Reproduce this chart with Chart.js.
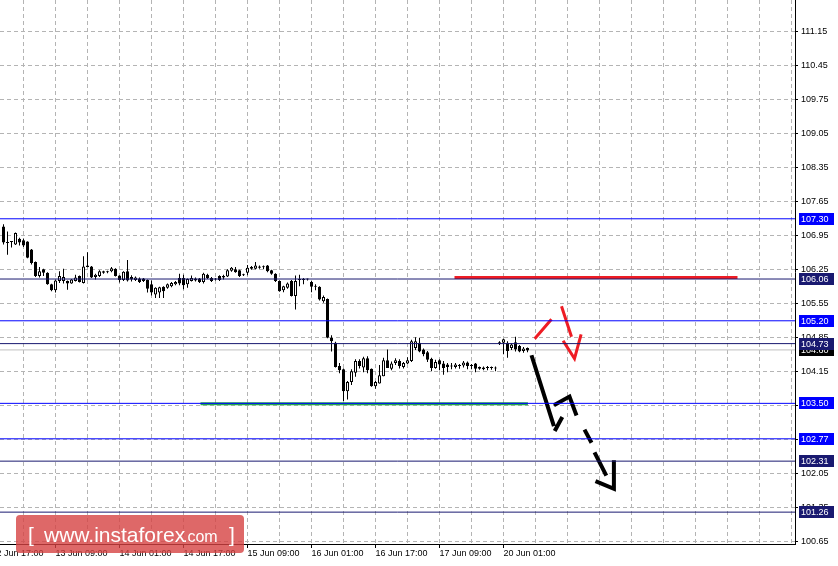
<!DOCTYPE html>
<html>
<head>
<meta charset="utf-8">
<script src="https://cdn.jsdelivr.net/npm/chart.js@4.4.1/dist/chart.umd.min.js"></script>
<style>
    html, body { margin: 0; padding: 0; background: #ffffff; }
    #wrap { width: 838px; height: 566px; }
</style>
</head>
<body>
<div id="wrap"><canvas id="chart" width="838" height="566"></canvas></div>
<script>
// H1 candles, x value = hours counted from 12 Jun 17:00 (weekend skipped)
const firstHour = 3;
const opens = [
    107.14, 106.82, 106.82, 106.77, 106.89, 106.86, 106.83, 106.67, 106.41, 106.12,
    106.26, 106.19, 105.95, 105.83, 106.02, 106.02, 106.02, 105.97, 106.02, 106.12,
    105.98, 106.34, 106.32, 106.10, 106.12, 106.22, 106.22, 106.22, 106.27, 106.13,
    106.04, 106.22, 106.10, 106.04, 106.07, 106.07, 106.04, 105.95, 105.74, 105.78,
    105.90, 105.88, 105.91, 105.95, 106.08, 106.08, 105.95, 106.02, 106.07, 106.07,
    106.00, 106.15, 106.08, 106.05, 106.12, 106.09, 106.11, 106.23, 106.26, 106.24,
    106.14, 106.19, 106.27, 106.27, 106.32, 106.31, 106.34, 106.24, 106.17, 106.02,
    105.83, 105.88, 106.02, 105.71, 106.05, 106.04, 106.06, 106.00, 105.91, 105.90,
    105.60, 105.65, 104.85, 104.75, 104.27, 104.20, 103.75, 103.94, 104.13, 104.37,
    104.24, 104.43, 104.21, 103.85, 103.91, 104.06, 104.39, 104.21, 104.33, 104.37,
    104.25, 104.32, 104.37, 104.64, 104.75, 104.61, 104.55, 104.42, 104.23, 104.39,
    104.32, 104.30, 104.27, 104.25, 104.27, 104.28, 104.34, 104.28, 104.32, 104.25,
    104.24, 104.24, 104.23, 104.23, 104.72, 104.75, 104.75, 104.64, 104.76, 104.68,
    104.58, 104.64
];
const highs = [
    107.19, 107.04, 106.84, 107.02, 106.91, 106.89, 106.84, 106.68, 106.42, 106.31,
    106.27, 106.20, 105.96, 106.05, 106.22, 106.27, 106.03, 106.06, 106.15, 106.13,
    106.53, 106.61, 106.33, 106.17, 106.24, 106.23, 106.23, 106.31, 106.28, 106.14,
    106.22, 106.45, 106.14, 106.11, 106.09, 106.08, 106.05, 106.03, 105.89, 105.90,
    105.91, 105.97, 106.00, 106.02, 106.17, 106.15, 106.07, 106.13, 106.09, 106.08,
    106.19, 106.17, 106.10, 106.08, 106.14, 106.15, 106.26, 106.31, 106.31, 106.25,
    106.17, 106.35, 106.33, 106.41, 106.34, 106.34, 106.35, 106.25, 106.18, 106.03,
    105.92, 105.99, 106.04, 106.13, 106.15, 106.08, 106.07, 106.02, 105.95, 105.91,
    105.72, 105.66, 104.90, 104.77, 104.33, 104.22, 103.96, 104.20, 104.41, 104.41,
    104.46, 104.47, 104.22, 103.96, 104.29, 104.44, 104.61, 104.36, 104.43, 104.41,
    104.35, 104.45, 104.81, 104.86, 104.85, 104.63, 104.58, 104.44, 104.40, 104.41,
    104.37, 104.33, 104.33, 104.33, 104.31, 104.37, 104.36, 104.31, 104.33, 104.26,
    104.26, 104.27, 104.26, 104.26, 104.78, 104.83, 104.78, 104.74, 104.87, 104.70,
    104.66, 104.65
];
const lows = [
    106.77, 106.56, 106.71, 106.76, 106.75, 106.72, 106.49, 106.36, 106.10, 106.09,
    106.12, 105.94, 105.81, 105.78, 105.98, 105.97, 105.84, 105.96, 106.01, 105.99,
    105.97, 106.30, 106.08, 106.05, 106.10, 106.17, 106.18, 106.20, 106.11, 105.99,
    106.02, 106.01, 106.01, 106.02, 105.98, 106.00, 105.78, 105.72, 105.67, 105.67,
    105.67, 105.86, 105.89, 105.93, 105.93, 105.85, 105.88, 106.01, 106.01, 105.98,
    105.97, 106.06, 106.00, 106.03, 106.02, 106.05, 106.10, 106.21, 106.19, 106.10,
    106.12, 106.14, 106.25, 106.26, 106.27, 106.26, 106.20, 106.15, 106.00, 105.80,
    105.79, 105.86, 105.70, 105.43, 105.91, 105.95, 106.03, 105.79, 105.83, 105.62,
    105.57, 104.84, 104.57, 104.24, 104.12, 103.55, 103.58, 103.88, 104.05, 104.22,
    104.14, 104.12, 103.84, 103.80, 103.91, 104.06, 104.23, 104.18, 104.29, 104.22,
    104.22, 104.31, 104.35, 104.60, 104.55, 104.47, 104.35, 104.16, 104.21, 104.18,
    104.09, 104.14, 104.20, 104.22, 104.21, 104.24, 104.20, 104.20, 104.14, 104.19,
    104.18, 104.18, 104.19, 104.16, 104.70, 104.51, 104.44, 104.60, 104.57, 104.55,
    104.54, 104.55
];
const closes = [
    106.81, 106.80, 106.83, 107.01, 106.81, 106.75, 106.50, 106.39, 106.12, 106.22,
    106.19, 105.95, 105.83, 106.03, 106.12, 106.10, 105.97, 106.05, 106.09, 106.00,
    106.32, 106.31, 106.09, 106.15, 106.22, 106.19, 106.20, 106.28, 106.12, 106.04,
    106.21, 106.03, 106.05, 106.09, 106.00, 106.02, 105.86, 105.78, 105.88, 105.89,
    105.81, 105.95, 105.98, 106.00, 105.97, 105.93, 106.06, 106.08, 106.03, 106.00,
    106.17, 106.08, 106.02, 106.06, 106.04, 106.12, 106.24, 106.29, 106.20, 106.12,
    106.15, 106.29, 106.31, 106.34, 106.29, 106.30, 106.22, 106.17, 106.02, 105.81,
    105.91, 105.97, 105.71, 106.02, 106.04, 106.05, 106.05, 105.90, 105.90, 105.64,
    105.69, 104.85, 104.78, 104.25, 104.18, 103.75, 103.94, 104.16, 104.37, 104.27,
    104.43, 104.18, 103.85, 103.94, 104.08, 104.39, 104.23, 104.32, 104.39, 104.27,
    104.33, 104.39, 104.78, 104.78, 104.57, 104.51, 104.40, 104.23, 104.35, 104.30,
    104.23, 104.25, 104.26, 104.30, 104.28, 104.34, 104.27, 104.27, 104.21, 104.21,
    104.20, 104.23, 104.24, 104.22, 104.76, 104.82, 104.58, 104.71, 104.61, 104.57,
    104.63, 104.59
];

// horizontal levels drawn across the whole chart
const levelPrices = [107.30, 106.06, 105.20, 104.73, 103.50, 102.77, 102.31, 101.26];
const levelColors = ['#0000ff', '#191970', '#0000ff', '#191970', '#0000ff', '#0000ff', '#191970', '#191970'];
const bidPrice = 104.60;

// thick segments (red resistance, green support)
const redLevelHours = [115.75, 186.5];
const redLevelPrice = 106.09;
const greenLevelHours = [52.25, 134.1];
const greenLevelPrice = 103.49;

// forecast arrows, null breaks the stroke
const redArrowHours = [135.8, 140, 140, 142.5, 145, 145, 142.9, 145.75, 147.4];
const redArrowPrices = [104.83, 105.23, null, 105.50, 104.87, null, 104.79, 104.42, 104.92];
const blackArrowHours = [135, 140.6, 140.6, 140.8, 142.7, 142.7, 140.6, 144.5, 146.25, 146.25,
    148.25, 150, 150, 150.75, 153.7, 153.7, 151, 155.6, 155.6];
const blackArrowPrices = [104.49, 103.03, null, 102.93, 103.22, null, 103.46, 103.64, 103.25, null,
    102.96, 102.69, null, 102.49, 102.01, null, 101.90, 101.74, 102.33];

// axes
const yTicks = [100.65, 101.35, 102.05, 102.75, 103.45, 104.15, 104.85, 105.55, 106.25, 106.95,
    107.65, 108.35, 109.05, 109.75, 110.45, 111.15, 111.85];
const xGridHours = [0, 8, 16, 24, 32, 40, 48, 56, 64, 72, 80, 88, 96, 104, 112, 120, 128,
    136, 144, 152, 160, 168, 176, 184, 192, 200];
const xTickHours = [0, 16, 32, 48, 64, 80, 96, 112, 128];
const xTickLabels = ['12 Jun 17:00', '13 Jun 09:00', '14 Jun 01:00', '14 Jun 17:00', '15 Jun 09:00',
    '16 Jun 01:00', '16 Jun 17:00', '17 Jun 09:00', '20 Jun 01:00'];

const X_MIN = 2.125;
const X_MAX = 200.875;
const FONT = 'Liberation Sans';
const AXIS_FONT = '9px "Liberation Sans"';

Chart.defaults.font.family = FONT;

function flatLine(hours, price) {
    return hours.map(h => ({ x: h, y: price }));
}

function pathData(hours, prices) {
    return hours.map((h, i) => ({ x: h, y: prices[i] }));
}

let bodies = opens.map((o, i) => ({ x: firstHour + i, y: [o, closes[i]] }));
let wicks = lows.map((l, i) => ({ x: firstHour + i, y: [l, highs[i]] }));
let bodyColors = opens.map((o, i) => closes[i] >= o ? '#ffffff' : '#000000');

let datasets = [];

levelPrices.forEach((p, i) => {
    datasets.push({
        type: 'line', data: flatLine([X_MIN, X_MAX], p),
        borderColor: levelColors[i], borderWidth: 1, pointRadius: 0, order: 0
    });
});

datasets.push({
    type: 'line', data: flatLine(redLevelHours, redLevelPrice),
    borderColor: '#ee1c24', borderWidth: 3, pointRadius: 0, order: 0
});
datasets.push({
    type: 'line', data: flatLine(greenLevelHours, greenLevelPrice),
    borderColor: '#22a84a', borderWidth: 3, pointRadius: 0, order: 0
});
datasets.push({
    type: 'line', data: pathData(redArrowHours, redArrowPrices), spanGaps: false,
    borderColor: '#ee1c24', borderWidth: 3, pointRadius: 0, order: 0
});
datasets.push({
    type: 'line', data: pathData(blackArrowHours, blackArrowPrices), spanGaps: false,
    borderColor: '#000000', borderWidth: 4, pointRadius: 0, order: 0
});

// candle bodies above wicks
datasets.push({
    type: 'bar', data: bodies, backgroundColor: bodyColors, borderColor: '#000000',
    borderWidth: 1, borderSkipped: false, barThickness: 3, minBarLength: 1,
    grouped: false, inflateAmount: 0, order: 1
});
datasets.push({
    type: 'bar', data: wicks, backgroundColor: '#000000', borderWidth: 0,
    barThickness: 1, grouped: false, inflateAmount: 0, order: 2
});
datasets.push({
    type: 'line', data: flatLine([X_MIN, X_MAX], bidPrice),
    borderColor: '#c0c0c0', borderWidth: 1, pointRadius: 0, order: 3
});

// price boxes on the axis and the watermark
const overlay = {
    id: 'overlay',
    afterDraw(chart) {
        let ctx = chart.ctx;
        let ys = chart.scales.y;
        ctx.save();
        ctx.font = AXIS_FONT;
        ctx.textBaseline = 'middle';
        ctx.textAlign = 'left';

        let drawBox = (price, color) => {
            let py = ys.getPixelForValue(price);
            ctx.fillStyle = color;
            ctx.fillRect(799, Math.round(py) - 6, 35, 12);
            ctx.fillStyle = '#ffffff';
            ctx.fillText(price.toFixed(2), 801, py + 0.5);
        };
        drawBox(bidPrice, '#000000');
        levelPrices.forEach((p, i) => drawBox(p, levelColors[i]));

        ctx.fillStyle = 'rgba(214, 66, 66, 0.8)';
        ctx.beginPath();
        ctx.roundRect(16, 515, 228, 38, 4);
        ctx.fill();
        ctx.fillStyle = '#ffffff';
        ctx.textBaseline = 'alphabetic';
        ctx.font = '21px "Liberation Sans"';
        ctx.fillText('[', 28, 542);
        ctx.fillText('www.instaforex', 44, 542);
        ctx.fillText(']', 229, 542);
        ctx.font = '16px "Liberation Sans"';
        ctx.fillText('.com', 183, 542);
        ctx.restore();
    }
};

function xTickColor(c) {
    if (!c.tick) return 'rgba(0,0,0,0)';
    return xTickHours.includes(c.tick.value) ? '#000000' : 'rgba(0,0,0,0)';
}

new Chart(document.getElementById('chart'), {
    type: 'bar',
    data: { datasets: datasets },
    options: {
        responsive: false,
        animation: false,
        events: [],
        layout: { padding: 0 },
        plugins: { legend: { display: false }, tooltip: { enabled: false } },
        scales: {
            x: {
                type: 'linear', min: X_MIN, max: X_MAX, offset: false,
                afterBuildTicks: s => { s.ticks = xGridHours.map(v => ({ value: v })); },
                afterFit: s => { s.height = 22; s.paddingLeft = 0; s.paddingRight = 0; },
                ticks: {
                    align: 'start', autoSkip: false, maxRotation: 0, minRotation: 0, padding: 0,
                    color: '#000000', font: { family: FONT, size: 9 },
                    callback: v => {
                        let i = xTickHours.indexOf(v);
                        return i >= 0 ? xTickLabels[i] : '';
                    }
                },
                grid: { offset: false, color: '#b4b4b4', tickLength: 4, tickColor: xTickColor },
                border: { color: '#000000', dash: [4, 3] }
            },
            y: {
                type: 'linear', position: 'right', min: 100.604, max: 111.805,
                afterBuildTicks: s => { s.ticks = yTicks.map(v => ({ value: v })); },
                afterFit: s => { s.width = 43; s.paddingTop = 0; s.paddingBottom = 0; },
                ticks: {
                    padding: 3, color: '#000000', font: { family: FONT, size: 9 },
                    callback: v => v.toFixed(2)
                },
                grid: { color: '#b4b4b4', tickColor: '#000000', tickLength: 3 },
                border: { color: '#000000', dash: [4, 3] }
            }
        }
    },
    plugins: [overlay]
});
</script>
</body>
</html>
